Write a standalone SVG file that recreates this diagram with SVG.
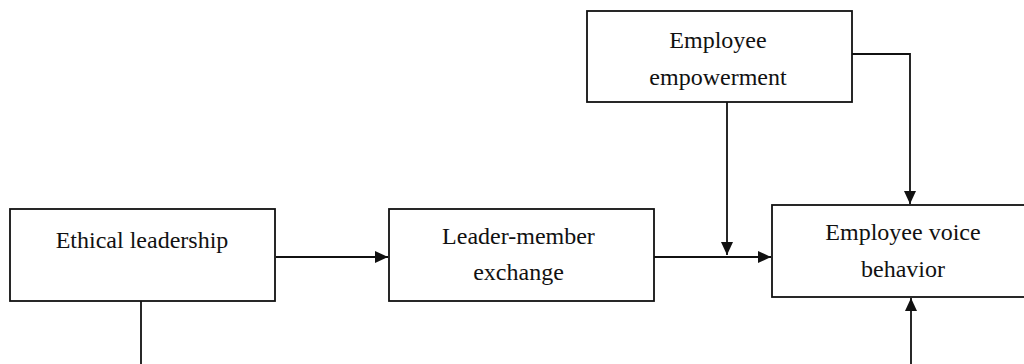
<svg xmlns="http://www.w3.org/2000/svg" width="1024" height="364" viewBox="0 0 1024 364">
<defs>
<marker id="arr" viewBox="0 0 13 12" refX="13" refY="6" markerWidth="13" markerHeight="12" markerUnits="userSpaceOnUse" orient="auto">
<path d="M0,0 L13,6 L0,12 Z" fill="#111"/>
</marker>
</defs>
<style>
.box{fill:#fff;stroke:#111;stroke-width:1.8}
.lbl{font-family:"Liberation Serif","Times New Roman",serif;font-size:24px;fill:#111;text-anchor:middle}
.conn{fill:none;stroke:#111;stroke-width:1.8}
</style>
<rect width="1024" height="364" fill="#fff"/>
<g id="connectors">
<path class="conn" d="M276,257 H388" marker-end="url(#arr)"/>
<path class="conn" d="M654,257 H771" marker-end="url(#arr)"/>
<path class="conn" d="M727,102 V255" marker-end="url(#arr)"/>
<path class="conn" d="M852,54 H910 V204" marker-end="url(#arr)"/>
<path class="conn" d="M911,364 V298" marker-end="url(#arr)"/>
<path class="conn" d="M141,301 V364"/>
</g>
<g id="ethical-leadership">
<rect class="box" x="10" y="209" width="265" height="92"/>
<text class="lbl" x="142" y="248">Ethical leadership</text>
</g>
<g id="leader-member-exchange">
<rect class="box" x="389" y="209" width="265" height="92"/>
<text class="lbl" x="518.5" y="244">Leader-member</text>
<text class="lbl" x="518.5" y="280">exchange</text>
</g>
<g id="employee-empowerment">
<rect class="box" x="587" y="11" width="265" height="91"/>
<text class="lbl" x="718" y="48">Employee</text>
<text class="lbl" x="718" y="85">empowerment</text>
</g>
<g id="employee-voice-behavior">
<rect class="box" x="772" y="205" width="262" height="92"/>
<text class="lbl" x="903" y="240">Employee voice</text>
<text class="lbl" x="903" y="277">behavior</text>
</g>
</svg>
